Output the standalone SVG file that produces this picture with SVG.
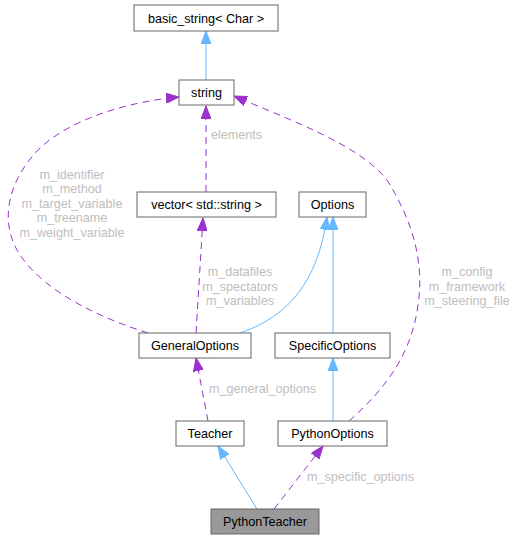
<svg xmlns="http://www.w3.org/2000/svg" width="517" height="540" viewBox="0 0 517 540">
<style>
.node rect{fill:#ffffff;stroke:#666666;stroke-width:1}
.node text{font-family:"Liberation Sans",Arial,sans-serif;font-size:12.6px;fill:#000000;text-anchor:middle}
.lbl{font-family:"Liberation Sans",Arial,sans-serif;font-size:12.6px;fill:#bebebe}
.mid{text-anchor:middle}
.inh{fill:none;stroke:#63b8ff;stroke-width:1}
.use{fill:none;stroke:#9a32cd;stroke-width:1;stroke-dasharray:7,5}
</style>
<defs>
<marker id="ab" viewBox="0 0 13 10" refX="13" refY="5" markerWidth="13" markerHeight="10" markerUnits="userSpaceOnUse" orient="auto"><path d="M0,0 L13,5 L0,10 z" fill="#63b8ff" stroke="#63b8ff"/></marker>
<marker id="ap" viewBox="0 0 13 10" refX="13" refY="5" markerWidth="13" markerHeight="10" markerUnits="userSpaceOnUse" orient="auto"><path d="M0,0 L13,5 L0,10 z" fill="#9a32cd" stroke="#9a32cd"/></marker>
</defs>
<rect width="517" height="540" fill="#ffffff"/>
<g id="edges">
<path class="inh" d="M206,80 L206,31" marker-end="url(#ab)"/>
<path class="use" d="M206,192 L206,106" marker-end="url(#ap)"/>
<text class="lbl" x="211" y="139">elements</text>
<path class="use" d="M148,333 C100,318 45,292 20,255 C-2,222 8,180 40,148 C70,120 125,102 179,97" marker-end="url(#ap)"/>
<text class="lbl mid" x="72" y="179">m_identifier</text>
<text class="lbl mid" x="72" y="193">m_method</text>
<text class="lbl mid" x="72" y="207.5">m_target_variable</text>
<text class="lbl mid" x="72" y="222">m_treename</text>
<text class="lbl mid" x="72" y="236.5">m_weight_variable</text>
<path class="use" d="M196,333 L203,218" marker-end="url(#ap)"/>
<text class="lbl mid" x="240" y="276">m_datafiles</text>
<text class="lbl mid" x="240" y="290.5">m_spectators</text>
<text class="lbl mid" x="240" y="305">m_variables</text>
<path class="inh" d="M240,333 C290,316 318,280 327,217" marker-end="url(#ab)"/>
<path class="inh" d="M333,333 L333,217" marker-end="url(#ab)"/>
<path class="use" d="M208,421 L196,358" marker-end="url(#ap)"/>
<text class="lbl" x="209" y="393">m_general_options</text>
<path class="inh" d="M333,421 L333,358" marker-end="url(#ab)"/>
<path class="use" d="M349,421 C390,385 412,350 418,305 C424,265 415,225 387,180 C360,145 290,120 234,96" marker-end="url(#ap)"/>
<text class="lbl mid" x="467" y="276">m_config</text>
<text class="lbl mid" x="467" y="290.5">m_framework</text>
<text class="lbl mid" x="467" y="305">m_steering_file</text>
<path class="inh" d="M257,509 L218,446" marker-end="url(#ab)"/>
<path class="use" d="M274,509 L323,446" marker-end="url(#ap)"/>
<text class="lbl" x="307" y="481">m_specific_options</text>
</g>
<g id="basic_string" class="node"><rect x="134" y="5" width="144" height="26"/><text x="206" y="22.5">basic_string&lt; Char &gt;</text></g>
<g id="string" class="node"><rect x="179" y="80" width="55" height="25"/><text x="206.5" y="97">string</text></g>
<g id="vector" class="node"><rect x="137" y="192" width="139" height="25"/><text x="206.5" y="209">vector&lt; std::string &gt;</text></g>
<g id="Options" class="node"><rect x="299" y="192" width="67" height="25"/><text x="332.5" y="209">Options</text></g>
<g id="GeneralOptions" class="node"><rect x="139" y="333" width="112" height="25"/><text x="195" y="350">GeneralOptions</text></g>
<g id="SpecificOptions" class="node"><rect x="275" y="333" width="115" height="25"/><text x="332.5" y="350">SpecificOptions</text></g>
<g id="Teacher" class="node"><rect x="176" y="421" width="68" height="25"/><text x="210" y="438">Teacher</text></g>
<g id="PythonOptions" class="node"><rect x="278" y="421" width="109" height="25"/><text x="332.5" y="438">PythonOptions</text></g>
<g id="PythonTeacher" class="node"><rect x="211" y="509" width="108" height="25" style="fill:#999999"/><text x="265" y="526">PythonTeacher</text></g>
</svg>
